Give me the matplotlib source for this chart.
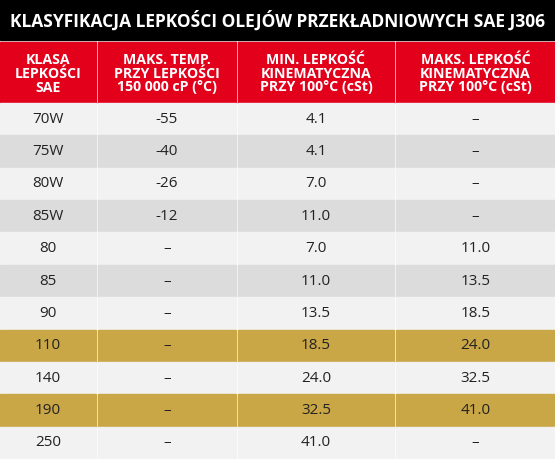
import matplotlib
matplotlib.use("Agg")
import matplotlib.pyplot as plt
from matplotlib.patches import Rectangle

title = "KLASYFIKACJA LEPKOŚCI OLEJÓW PRZEKŁADNIOWYCH SAE J306"
headers = ["KLASA\nLEPKOŚCI\nSAE", "MAKS. TEMP.\nPRZY LEPKOŚCI\n150 000 cP (°C)",
           "MIN. LEPKOŚĆ\nKINEMATYCZNA\nPRZY 100°C (cSt)", "MAKS. LEPKOŚĆ\nKINEMATYCZNA\nPRZY 100°C (cSt)"]
klasa = ["70W", "75W", "80W", "85W", "80", "85", "90", "110", "140", "190", "250"]
maks_temp = ["-55", "-40", "-26", "-12", "–", "–", "–", "–", "–", "–", "–"]
min_lepk = ["4.1", "4.1", "7.0", "11.0", "7.0", "11.0", "13.5", "18.5", "24.0", "32.5", "41.0"]
maks_lepk = ["–", "–", "–", "–", "11.0", "13.5", "18.5", "24.0", "32.5", "41.0", "–"]
highlight = ["110", "190"]

W, H = 555, 459
fig = plt.figure(figsize=(W/100, H/100), dpi=100)
ax = fig.add_axes([0, 0, 1, 1])
ax.set_xlim(0, W); ax.set_ylim(H, 0); ax.axis("off")
fig.patch.set_facecolor("white")

cols = [(0, 96), (98, 236), (238, 394), (396, 555)]
ax.add_patch(Rectangle((0, 0), W, 40, color="black"))
ax.text(W/2, 21, title, color="white", ha="center", va="center", fontsize=12.5,
        fontweight="bold", family="Open Sans")
hy0, hy1 = 42, 103
for (x0, x1), h in zip(cols, headers):
    ax.add_patch(Rectangle((x0, hy0), x1-x0, hy1-hy0, color="#e3001b"))
    ax.text((x0+x1)/2, (hy0+hy1)/2 + 1, h, color="white", ha="center", va="center",
            fontsize=10.2, fontweight="bold", linespacing=1.0, family="Open Sans")
rh = (H - hy1) / len(klasa)
for i, row in enumerate(zip(klasa, maks_temp, min_lepk, maks_lepk)):
    y0 = hy1 + i*rh
    if row[0] in highlight:
        c = "#c9a646"
    else:
        c = "#f2f2f2" if i % 2 == 0 else "#dcdcdc"
    for (x0, x1), v in zip(cols, row):
        ax.add_patch(Rectangle((x0, y0), x1-x0, rh, color=c))
        ax.text((x0+x1)/2, y0+rh/2, v, ha="center", va="center", fontsize=11,
                color="#222222", family="Open Sans")
fig.savefig("out.png", dpi=100)
